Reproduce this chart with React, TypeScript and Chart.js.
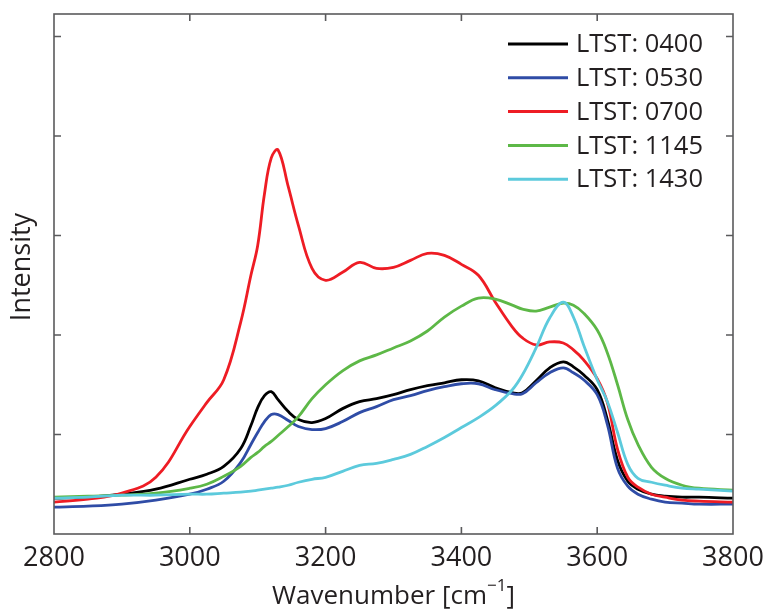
import React, { useEffect, useRef } from "react";
import { Chart, registerables } from "chart.js";

Chart.register(...registerables);

// Wavenumber grid shared by all spectra [cm^-1]
const wavenumbers = [
  2800, 2850, 2900, 2950, 3000, 3025, 3050, 3075, 3090, 3100, 3110, 3120, 3130, 3145, 3160,
  3180, 3200, 3225, 3250, 3275, 3300, 3325, 3350, 3375, 3400, 3425, 3450, 3475, 3490, 3510,
  3530, 3550, 3565, 3580, 3600, 3615, 3630, 3645, 3660, 3680, 3700, 3725, 3750, 3800,
];

// Intensities (arbitrary units) for each local true solar time
const ltst0400 = [
  0.36, 0.37, 0.4, 0.45, 0.55, 0.6, 0.68, 0.86, 1.09, 1.27, 1.39, 1.43, 1.35, 1.23, 1.15,
  1.12, 1.16, 1.26, 1.33, 1.36, 1.4, 1.45, 1.49, 1.52, 1.55, 1.54, 1.47, 1.42, 1.42, 1.54,
  1.67, 1.73, 1.68, 1.6, 1.45, 1.15, 0.74, 0.53, 0.45, 0.4, 0.38, 0.37, 0.37, 0.36,
];
const ltst0530 = [
  0.27, 0.28, 0.3, 0.34, 0.4, 0.45, 0.53, 0.72, 0.9, 1.02, 1.13, 1.2, 1.2, 1.14, 1.08,
  1.05, 1.06, 1.13, 1.22, 1.28, 1.35, 1.39, 1.44, 1.48, 1.51, 1.51, 1.45, 1.41, 1.41, 1.52,
  1.62, 1.67, 1.62, 1.55, 1.4, 1.1, 0.66, 0.48, 0.4, 0.35, 0.32, 0.31, 0.3, 0.3,
];
const ltst0700 = [
  0.32, 0.35, 0.41, 0.57, 1.08, 1.32, 1.55, 2.13, 2.6, 2.9, 3.42, 3.78, 3.86, 3.49, 3.1,
  2.67, 2.55, 2.63, 2.73, 2.67, 2.68, 2.75, 2.82, 2.8, 2.71, 2.6, 2.33, 2.08, 1.97, 1.9,
  1.93, 1.92, 1.85, 1.75, 1.56, 1.32, 0.85, 0.57, 0.47, 0.4, 0.37, 0.34, 0.33, 0.32,
];
const ltst1145 = [
  0.37, 0.38, 0.39, 0.41, 0.46, 0.5, 0.58, 0.68, 0.77, 0.82, 0.88, 0.93, 0.99, 1.08, 1.18,
  1.36, 1.5, 1.64, 1.74, 1.8, 1.87, 1.94, 2.04, 2.18, 2.29, 2.37, 2.36, 2.3, 2.26, 2.24,
  2.28, 2.32, 2.3, 2.22, 2.05, 1.82, 1.5, 1.15, 0.9, 0.67, 0.56, 0.49, 0.46, 0.44,
];
const ltst1430 = [
  0.36, 0.37, 0.39, 0.39, 0.4, 0.4, 0.41, 0.42, 0.43, 0.44, 0.45, 0.46, 0.47, 0.49, 0.52,
  0.55, 0.57, 0.63, 0.69, 0.71, 0.75, 0.8, 0.88, 0.97, 1.07, 1.17, 1.29, 1.45, 1.6, 1.87,
  2.17, 2.33, 2.18, 1.9, 1.55, 1.33, 1.02, 0.7, 0.56, 0.52, 0.49, 0.46, 0.45, 0.43,
];

const seriesLabels = ["LTST: 0400", "LTST: 0530", "LTST: 0700", "LTST: 1145", "LTST: 1430"];
const seriesValues = [ltst0400, ltst0530, ltst0700, ltst1145, ltst1430];
const seriesColors = ["#000000", "#2f4ca6", "#ee1c24", "#5db847", "#5ccadc"];

const xTicks = [2800, 3000, 3200, 3400, 3600, 3800];
const yTicks = [1, 2, 3, 4, 5];
const xRange = [2800, 3800];
const yRange = [0, 5.226];

const FONT = "'Open Sans', 'Liberation Sans', sans-serif";
const TEXT_COLOR = "#231f20";
const FRAME_COLOR = "#5a5a5c";

// Draws the boxed frame with inward tick marks, the legend and the axis titles
const decorations = {
  id: "decorations",
  afterDraw(chart: any) {
    const { ctx, chartArea, scales } = chart;
    const { left, right, top, bottom } = chartArea;
    const tickLen = 7;
    ctx.save();

    ctx.strokeStyle = FRAME_COLOR;
    ctx.lineWidth = 1.6;
    ctx.strokeRect(left, top, right - left, bottom - top);
    ctx.beginPath();
    for (const v of xTicks) {
      const px = scales.x.getPixelForValue(v);
      if (px <= left + 1 || px >= right - 1) continue;
      ctx.moveTo(px, bottom);
      ctx.lineTo(px, bottom - tickLen);
      ctx.moveTo(px, top);
      ctx.lineTo(px, top + tickLen);
    }
    for (const v of yTicks) {
      const py = scales.y.getPixelForValue(v);
      ctx.moveTo(left, py);
      ctx.lineTo(left + tickLen, py);
      ctx.moveTo(right, py);
      ctx.lineTo(right - tickLen, py);
    }
    ctx.stroke();

    // Legend in the upper right corner of the plot
    const legendX = right - 225;
    const rowStart = top + 30;
    const rowGap = 33.8;
    ctx.font = `25.5px ${FONT}`;
    ctx.textBaseline = "middle";
    ctx.textAlign = "left";
    seriesLabels.forEach((label, i) => {
      const y = rowStart + i * rowGap;
      ctx.strokeStyle = seriesColors[i];
      ctx.lineWidth = 3;
      ctx.beginPath();
      ctx.moveTo(legendX, y);
      ctx.lineTo(legendX + 60, y);
      ctx.stroke();
      ctx.fillStyle = TEXT_COLOR;
      ctx.fillText(label, legendX + 68, y + 1);
    });

    // x-axis title with superscript exponent
    ctx.fillStyle = TEXT_COLOR;
    const main = "Wavenumber [cm";
    const sup = "\u22121";
    const close = "]";
    ctx.font = `26px ${FONT}`;
    const wMain = ctx.measureText(main).width;
    const wClose = ctx.measureText(close).width;
    ctx.font = `17px ${FONT}`;
    const wSup = ctx.measureText(sup).width;
    const cx = (left + right) / 2;
    const startX = cx - (wMain + wSup + wClose) / 2;
    const ty = 597;
    ctx.textAlign = "left";
    ctx.font = `26px ${FONT}`;
    ctx.fillText(main, startX, ty);
    ctx.font = `17px ${FONT}`;
    ctx.fillText(sup, startX + wMain, ty - 11);
    ctx.font = `26px ${FONT}`;
    ctx.fillText(close, startX + wMain + wSup, ty);

    // y-axis title
    ctx.translate(22, (top + bottom) / 2 - 7);
    ctx.rotate(-Math.PI / 2);
    ctx.textAlign = "center";
    ctx.font = `27px ${FONT}`;
    ctx.fillText("Intensity", 0, 0);

    ctx.restore();
  },
};

export default function App() {
  const canvasRef = useRef<HTMLCanvasElement | null>(null);

  useEffect(() => {
    const canvas = canvasRef.current;
    if (!canvas) return;
    const datasets = seriesLabels.map((label, i) => ({
      label,
      data: wavenumbers.map((w, j) => ({ x: w, y: seriesValues[i][j] })),
      borderColor: seriesColors[i],
      backgroundColor: seriesColors[i],
      borderWidth: 2.8,
      pointRadius: 0,
      tension: 0.4,
      fill: false,
      order: seriesLabels.length - i,
    }));

    const chart = new Chart(canvas, {
      type: "line",
      data: { datasets },
      options: {
        animation: false,
        responsive: false,
        maintainAspectRatio: false,
        layout: { padding: { top: 14, right: 33, left: 0, bottom: 0 } },
        plugins: {
          legend: { display: false },
          tooltip: { enabled: false },
        },
        scales: {
          x: {
            type: "linear",
            min: xRange[0],
            max: xRange[1],
            grid: { display: false, drawTicks: false },
            border: { display: false },
            afterBuildTicks: (scale: any) => {
              scale.ticks = xTicks.map((v) => ({ value: v }));
            },
            afterFit: (scale: any) => {
              scale.height = 75;
              scale.paddingLeft = 0;
              scale.paddingRight = 0;
            },
            ticks: {
              padding: 8,
              maxRotation: 0,
              autoSkip: false,
              color: TEXT_COLOR,
              font: { family: FONT, size: 27 },
              callback: (v: any) => String(v),
            },
          },
          y: {
            type: "linear",
            min: yRange[0],
            max: yRange[1],
            grid: { display: false },
            border: { display: false },
            ticks: { display: false },
            afterFit: (scale: any) => {
              scale.width = 54;
              scale.paddingTop = 0;
              scale.paddingBottom = 0;
            },
          },
        },
      },
      plugins: [decorations],
    });

    return () => chart.destroy();
  }, []);

  return (
    <div style={{ position: "absolute", left: 0, top: 0, width: 766, height: 609, background: "#fff" }}>
      <canvas ref={canvasRef} width={766} height={609} style={{ display: "block" }} />
    </div>
  );
}
